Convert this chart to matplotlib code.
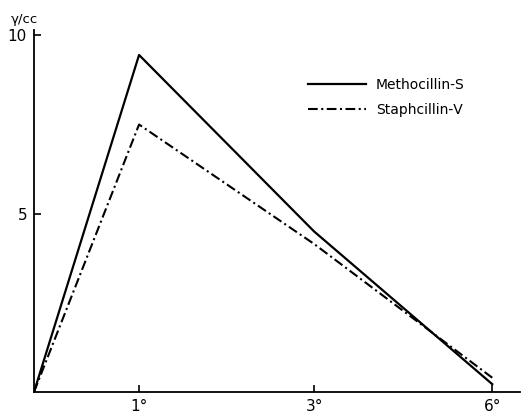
import numpy as np
import matplotlib
matplotlib.use("Agg")
import matplotlib.pyplot as plt

# ---- data ----
hours = [0, 1, 3, 6]
methocillin = [0, 9.45, 4.5, 0.22]
staphcillin = [0, 7.5, 4.15, 0.4]
x_tick_vals = [1, 3, 6]
x_tick_labels = ["1°", "3°", "6°"]
y_tick_vals = [5, 10]
y_tick_labels = ["5", "10"]
series_names = ["Methocillin-S", "Staphcillin-Ⅴ"]

plt.rcParams['font.family'] = ['DejaVu Sans', 'Noto Sans CJK JP']
plt.rcParams['lines.scale_dashes'] = False

# non-linear time axis as drawn in the original (piecewise linear)
_h = np.array([0, 1, 3, 6, 7], dtype=float)
_p = np.array([0, 105, 280, 458, 517], dtype=float)

def fwd(x):
    return np.interp(x, _h, _p)

def inv(y):
    return np.interp(y, _p, _h)

fig = plt.figure(figsize=(5.23, 4.15), dpi=100)
ax = fig.add_axes([34/523, 23/415, 486/523, 362/415])
ax.set_xscale('function', functions=(fwd, inv))

ax.plot(hours, methocillin, color='black', lw=1.6, label=series_names[0])
ax.plot(hours, staphcillin, color='black', lw=1.5,
        linestyle=(0, (7, 2.5, 1.5, 2.5)), label=series_names[1])

ax.set_xlim(0, 6.47)
ax.set_ylim(0, 10.15)

ax.spines['top'].set_visible(False)
ax.spines['right'].set_visible(False)
for s in ('left', 'bottom'):
    ax.spines[s].set_linewidth(1.3)

ax.set_xticks(x_tick_vals)
ax.set_xticklabels(x_tick_labels)
ax.set_yticks(y_tick_vals)
ax.set_yticklabels(y_tick_labels)
ax.tick_params(axis='both', direction='in', length=5, width=1.2, labelsize=11)
ax.tick_params(axis='x', pad=5)
ax.tick_params(axis='y', pad=5)
ax.minorticks_off()

fig.text(11/523, 1 - 23/415, "γ/cc", fontsize=9.5)

leg = ax.legend(loc='upper left', bbox_to_anchor=(308/523, 1 - 78/415),
                bbox_transform=fig.transFigure, frameon=False, fontsize=10,
                handlelength=4.2, handletextpad=0.7, labelspacing=0.8,
                borderpad=0, borderaxespad=0)

fig.savefig("out.png", dpi=100, facecolor='white')
